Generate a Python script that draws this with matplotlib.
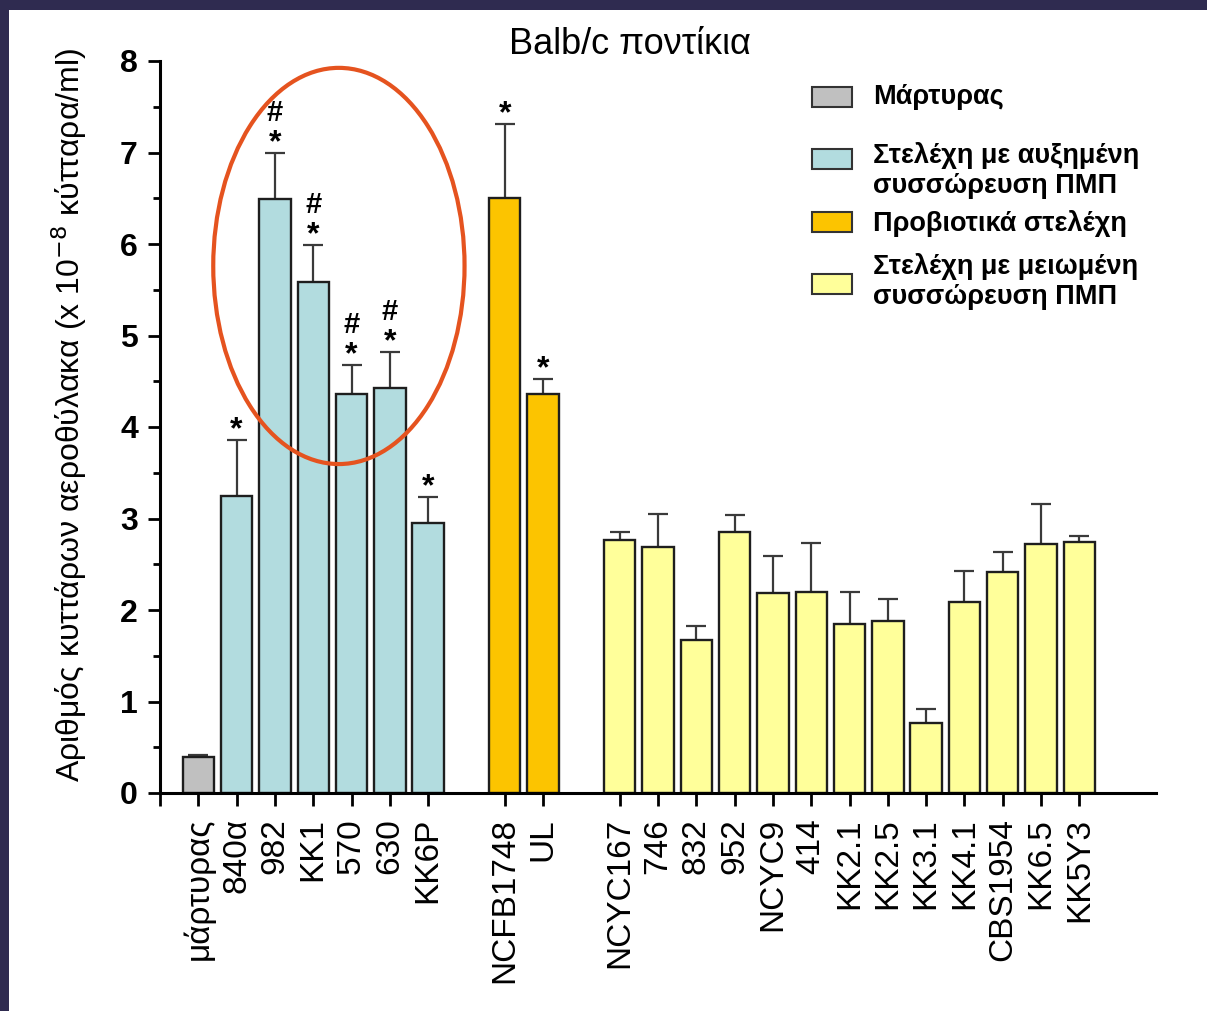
import numpy as np
import matplotlib.pyplot as plt
from matplotlib.patches import Ellipse, Rectangle
from matplotlib.ticker import MultipleLocator

plt.rcParams['font.family'] = ['Liberation Sans', 'DejaVu Sans']

# Control group
control_labels = ['μάρτυρας']
control_means = [0.39]
control_sem = [0.02]
control_sig = ['']

# Strains with increased aggregation
high_labels = ['840α', '982', 'KK1', '570', '630', 'KK6P']
high_means = [3.25, 6.49, 5.58, 4.36, 4.43, 2.95]
high_sem = [0.61, 0.51, 0.41, 0.32, 0.39, 0.29]
high_sig = ['*', '*#', '*#', '*#', '*#', '*']

# Probiotic strains
prob_labels = ['NCFB1748', 'UL']
prob_means = [6.50, 4.36]
prob_sem = [0.81, 0.17]
prob_sig = ['*', '*']

# Strains with reduced aggregation
low_labels = ['NCYC167', '746', '832', '952', 'NCYC9', '414', 'KK2.1', 'KK2.5',
              'KK3.1', 'KK4.1', 'CBS1954', 'KK6.5', 'KK5Y3']
low_means = [2.77, 2.69, 1.67, 2.85, 2.19, 2.20, 1.85, 1.88, 0.77, 2.09, 2.42, 2.72, 2.74]
low_sem = [0.08, 0.36, 0.16, 0.19, 0.40, 0.53, 0.35, 0.24, 0.15, 0.34, 0.21, 0.44, 0.07]
low_sig = [''] * len(low_labels)

legend_labels = [['Μάρτυρας'],
                 ['Στελέχη με αυξημένη', 'συσσώρευση ΠΜΠ'],
                 ['Προβιοτικά στελέχη'],
                 ['Στελέχη με μειωμένη', 'συσσώρευση ΠΜΠ']]

W, H = 1207, 1011
colors = ['#c0c0c0', '#b2dcdf', '#fcc400', '#ffff9a']

# (labels, means, sem, marks, colour, empty slots before the group)
groups = [
    (control_labels, control_means, control_sem, control_sig, colors[0], 0),
    (high_labels, high_means, high_sem, high_sig, colors[1], 0),
    (prob_labels, prob_means, prob_sem, prob_sig, colors[2], 1),
    (low_labels, low_means, low_sem, low_sig, colors[3], 1),
]

fig = plt.figure(figsize=(W / 100, H / 100), dpi=100)
ax = fig.add_axes([160 / W, 1 - 793 / H, (1156 - 160) / W, (793 - 61) / H])


def fx(px):
    return px / W


def fy(py):
    return 1 - py / H


slot = 0
ticks, ticklabels = [], []
for labels, means, sem, sig, col, gap in groups:
    slot += gap
    x = np.arange(slot, slot + len(labels))
    slot += len(labels)
    # symmetric bars drawn under the columns, so only the upper half shows
    ax.errorbar(x, means, yerr=sem, fmt='none', ecolor='#3a3a3a', elinewidth=1.6,
                capsize=7.5, capthick=1.6, zorder=1)
    ax.bar(x, means, width=0.82, color=col, edgecolor='#1e1e1e', linewidth=1.7, zorder=2)
    for xi, m, s, mark in zip(x, means, sem, sig):
        if '*' in mark:
            ax.annotate('*', (xi, m + s), xytext=(0, 1), textcoords='offset points',
                        ha='center', va='baseline', fontsize=23, fontweight='bold')
        if '#' in mark:
            ax.annotate('#', (xi, m + s), xytext=(0, 23), textcoords='offset points',
                        ha='center', va='baseline', fontsize=21, fontweight='bold')
    ticks.extend(x)
    ticklabels.extend(labels)

ax.set_xlim(-1, 25)
ax.set_ylim(0, 8)
ax.set_xticks(ticks)
ax.set_xticklabels(ticklabels, rotation=90, fontsize=24)
ax.set_xticks([-1], minor=True)
ax.yaxis.set_major_locator(MultipleLocator(1))
ax.yaxis.set_minor_locator(MultipleLocator(0.5))
for lab in ax.get_yticklabels():
    lab.set_fontweight('bold')
ax.tick_params(axis='y', which='major', labelsize=23, length=9, width=2, pad=7)
ax.tick_params(axis='y', which='minor', length=5, width=2)
ax.tick_params(axis='x', which='both', length=9, width=2, pad=9)
ax.spines['top'].set_visible(False)
ax.spines['right'].set_visible(False)
ax.spines['left'].set_linewidth(2.2)
ax.spines['bottom'].set_linewidth(2.2)

# highlight ellipse around the high-aggregation strains
ax.add_patch(Ellipse((3.67, 5.76), 6.56, 4.33, fill=False, edgecolor='#e5531f',
                     linewidth=3, zorder=5, clip_on=False))

fig.text(fx(630), fy(45), 'Balb/c ποντίκια', ha='center', va='center', fontsize=26)
fig.text(fx(69), fy(415), 'Αριθμός κυττάρων αεροθύλακα (x 10$^{-8}$ κύτταρα/ml)',
         rotation=90, ha='center', va='center', fontsize=23)

# legend drawn by hand
patch_y = [97, 159, 222, 284]
baselines = [[104], [163, 193], [231], [274, 304]]
for col, py, lines, bases in zip(colors, patch_y, legend_labels, baselines):
    fig.patches.append(Rectangle((fx(812), fy(py + 10)), 40 / W, 20 / H,
                                 transform=fig.transFigure, facecolor=col,
                                 edgecolor='#333333', linewidth=1.5))
    for txt, base in zip(lines, bases):
        fig.text(fx(873), fy(base), txt, ha='left', va='baseline',
                 fontsize=19.5, fontweight='bold')

# slide frame
frame = '#2f2b50'
fig.patches.append(Rectangle((0, fy(10)), 1, 10 / H, transform=fig.transFigure,
                             facecolor=frame, edgecolor='none'))
fig.patches.append(Rectangle((0, 0), 9 / W, 1, transform=fig.transFigure,
                             facecolor=frame, edgecolor='none'))

fig.savefig('out.png', dpi=100)
